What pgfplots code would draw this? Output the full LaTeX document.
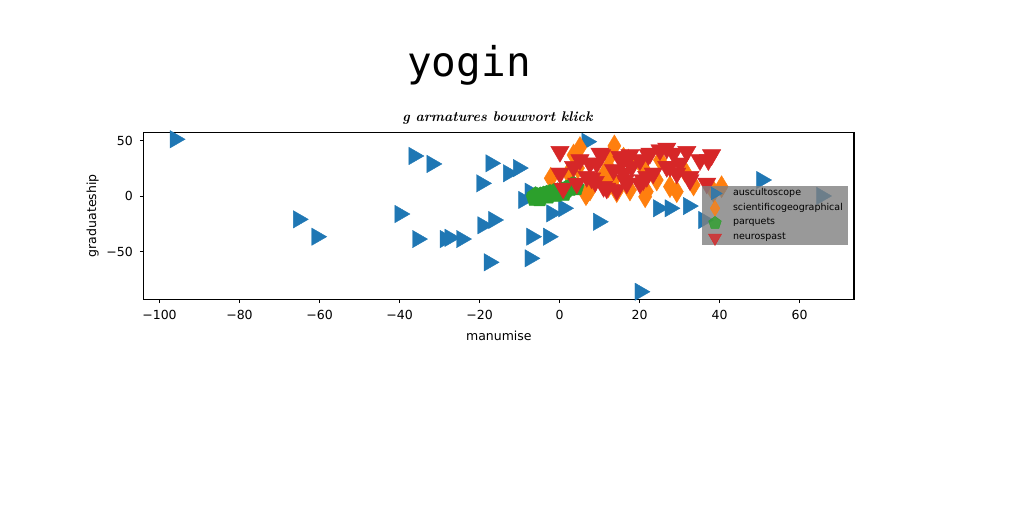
\documentclass[border=0pt]{standalone}
\usepackage{pgfplots}
\pgfplotsset{compat=1.18}
\usepackage{fontspec}
\setmainfont{DejaVu Sans}
\newfontfamily\monofont{DejaVu Sans Mono}
\definecolor{tabblue}{HTML}{1F77B4}
\definecolor{taborange}{HTML}{FF7F0E}
\definecolor{tabgreen}{HTML}{2CA02C}
\definecolor{tabred}{HTML}{D62728}
\begin{document}
\begin{tikzpicture}
\path[use as bounding box] (0pt,0pt) rectangle (512pt,256pt);
\node[anchor=base, font=\monofont\fontsize{20.5}{24}\selectfont, inner sep=0pt] at (234.5pt,217.6pt) {yogin};
\node[anchor=base, inner sep=0pt] at (248.7pt,195.2pt) {\fontspec{Latin Modern Roman}\fontsize{7}{8}\selectfont\bfseries\itshape g armatures bouwvort klick};
\begin{axis}[
  at={(71.85pt,106.35pt)}, anchor=south west,
  width=355.15pt, height=83.5pt, scale only axis,
  xmin=-103.95, xmax=73.6, ymin=-93, ymax=57.8,
  axis line style={black, line width=0.6pt},
  tick align=outside, tick pos=left,
  major tick length=1.9pt,
  every tick/.style={black, line width=0.5pt},
  xtick={-100,-80,-60,-40,-20,0,20,40,60},
  xticklabels={−100,−80,−60,−40,−20,0,20,40,60},
  ytick={-50,0,50},
  yticklabels={−50,0,50},
  tick label style={font=\fontsize{6.25}{7}\selectfont},
  label style={font=\fontsize{6.25}{7}\selectfont},
  xlabel={manumise}, ylabel={graduateship},
  xlabel style={yshift=1pt},
  ylabel style={yshift=-3pt},
  legend style={at={(0.7856,0.678)}, anchor=north west,
    fill=gray, fill opacity=0.8, text opacity=1, draw=none,
    font=\fontsize{4.75}{5}\selectfont, inner sep=0pt, outer sep=0pt,
    column sep=2.35pt,
    nodes={inner sep=0pt, text width=57.65pt, align=left}},
  legend cell align=left,
  legend image code/.code={\path[draw=none,fill=none] (0pt,-3.7pt) rectangle (13.3pt,3.7pt);
    \draw[overlay,mark repeat=2,mark phase=2,every mark/.append style={scale=0.72}] plot coordinates {(0pt,0pt) (6.65pt,0pt) (13.3pt,0pt)};},
]
\addplot[tabblue, only marks, mark=triangle*, mark size=5pt, mark options={rotate=-90, fill=tabblue, draw=tabblue, line width=0.2pt}] coordinates {
(-96.1,51.5) (-36.4,36.4) (-31.9,29.2) (-17.2,29.8) (-19.5,11.7) (-12.8,20.8) (-10.3,25.5)
(-65.3,-20.8) (-60.7,-36.5) (-39.9,-16) (-35.5,-38.6) (-28.6,-38.6) (-27.4,-37.5) (-24.5,-38.6)
(-19.2,-26.2) (-16.5,-21.4) (-17.6,-59.6) (-7.4,4.2) (-9,-3.3) (-2,-15.4) (1,-10.8)
(-7,-36.5) (-2.8,-36.5) (-7.4,-56) (9.7,-23) (6.8,49.3) (20.1,-86.2) (24.7,-10.8)
(27.6,-10.8) (32.2,-8.8) (36,-21.4) (50.5,14.7) (65.5,0.3)
};
\addlegendentry{auscultoscope}
\addplot[taborange, only marks, mark=diamond*, mark size=5.5pt, mark options={xscale=0.8, fill=taborange, draw=taborange, line width=0.2pt}] coordinates {
(-2.2,16.3) (2.2,20.8) (3.5,37.3) (5.1,44) (13.7,45.5) (12.6,35.8) (16,34.5) (6.8,2.7)
(6.6,1.5) (7.6,5.7) (11,19.2) (12.2,26.7) (13.5,14.7) (12.2,8.7) (14.3,4.2) (17.6,5.7)
(21.8,4.2) (21.4,-0.4) (21,25.3) (24.3,14.7) (25.1,32.8) (27.6,8.7) (29.3,4.2) (31.4,22.2)
(33.5,10.2) (38.5,4.2) (40.5,8.7) (17.2,32.8) (4.6,25.5)
};
\addlegendentry{scientificogeographical}
\addplot[tabgreen, only marks, mark=pentagon*, mark size=4.6pt, mark options={fill=tabgreen, draw=tabgreen, line width=0.2pt}] coordinates {
(-6.2,-1.5) (-5.5,-0.5) (-4.8,0.3) (-4,1) (-3.2,1.8) (-2.4,2.5) (-1.5,3.2) (-0.5,4)
(0.5,5) (1.5,6) (2.5,7.5) (3,9) (4,8) (3.5,10) (-5,-2) (-3,0.5) (-1,2) (-6,0.5) (1,3)
};
\addlegendentry{parquets}
\addplot[tabred, only marks, mark=triangle*, mark size=5.3pt, mark options={rotate=180, fill=tabred, draw=tabred, line width=0.2pt}] coordinates {
(0.1,40.3) (0.1,20.8) (0.9,7.2) (3.5,26.7) (5.1,32.8) (6.8,17.7) (4.3,11.7) (8,16.3)
(10.1,38.8) (9.3,29.8) (11,8.7) (13.5,23.8) (15.1,35.8) (16,20.8) (16.8,11.7) (14.3,5.7)
(17.6,37.3) (18,26.7) (20.1,32.8) (20.1,11.7) (20.9,14.7) (21.8,17.7) (22.2,37.3) (22.6,38.8)
(23.4,20.8) (25.1,41.8) (26.8,43.3) (26.8,26.7) (27.6,26.7) (28.5,38.8) (29.3,20.8) (30.1,29.8)
(31.8,40.3) (32.6,14.7) (32.6,17.7) (35.1,32.8) (37.2,32.8) (38,37.3) (36.8,11.7)
(7.6,29.8) (10.5,37.3) (8.9,13.2) (11.8,7.2) (15.6,31.3) (16.4,14.7)
};
\addlegendentry{neurospast}
\end{axis}
\end{tikzpicture}
\end{document}
